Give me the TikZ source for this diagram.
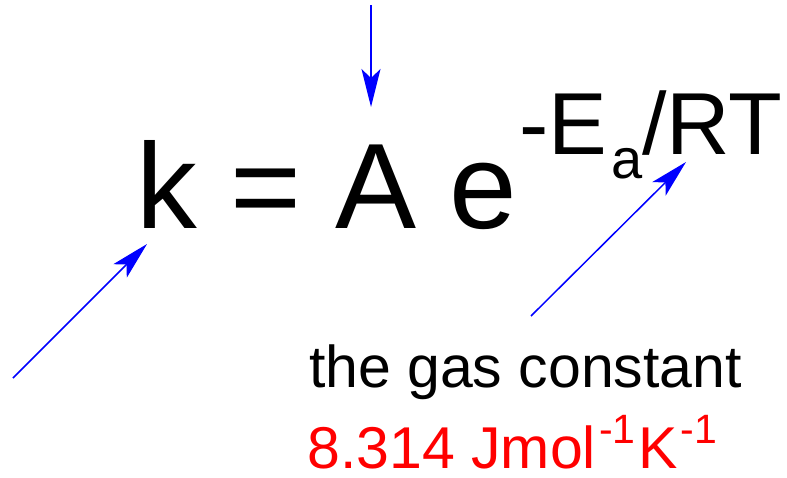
\documentclass[tikz,border=0pt]{standalone}
\usepackage{fontspec}
\setmainfont{Liberation Sans}
\usetikzlibrary{arrows.meta}
\tikzset{
  txt/.style={inner sep=0pt, outer sep=0pt, anchor=base west},
  ptr/.style={draw=blue, line width=1.5pt, -{Stealth[length=38pt, width=19pt, inset=9pt]}},
}
\newcommand{\fs}[1]{\fontsize{#1}{#1}\selectfont}
\begin{document}
\begin{tikzpicture}[x=1pt,y=-1pt]
\useasboundingbox (0,0) rectangle (787,477);
\node[txt] (eq) at (136,228) {\fs{121.5}k = A e};
\node[txt] (expo) at (519,154) {\fs{88}-E\kern4pt\raisebox{-24pt}{\fs{56}a}/RT};
\node[txt] (gas) at (309,387) {\fs{59}the gas constant};
\node[txt, text=red] (val) at (307.5,468) {\fs{59}8.314 Jmol\kern3pt\raisebox{25pt}{\fs{41}-1}\kern3pt K\kern3pt\raisebox{25pt}{\fs{41}-1}};
\coordinate (t1) at (371,5);
\coordinate (h1) at (371,107);
\coordinate (t2) at (13,378);
\coordinate (h2) at (147,244);
\coordinate (t3) at (531,316);
\coordinate (h3) at (686,162);
\draw[ptr] (t1) -- (h1);
\draw[ptr] (t2) -- (h2);
\draw[ptr] (t3) -- (h3);
\end{tikzpicture}
\end{document}
